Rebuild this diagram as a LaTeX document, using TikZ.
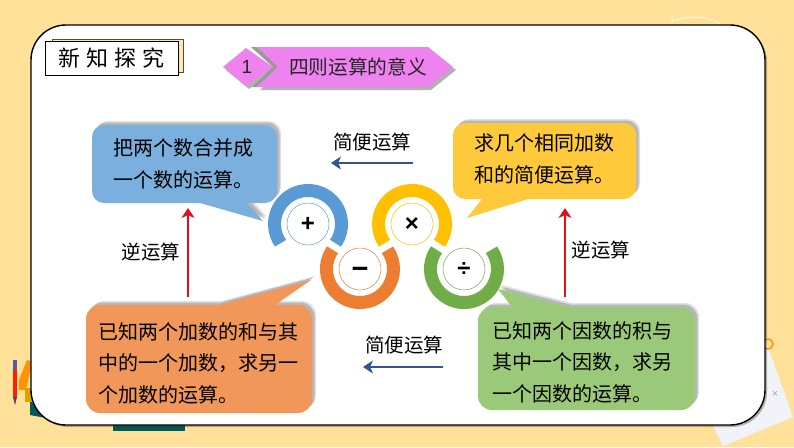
\documentclass[tikz,border=0pt]{standalone}
\usepackage{fontspec}
\setmainfont{Noto Sans CJK SC}
\setsansfont{Liberation Sans}
\usepackage{xcolor}
\usetikzlibrary{shadows,calc,arrows.meta}
\definecolor{page-yellow}{HTML}{FFE199}
\definecolor{add-blue}{HTML}{5B9BD5}
\definecolor{box-blue}{HTML}{7BAFDE}
\definecolor{sub-orange}{HTML}{ED7D31}
\definecolor{box-orange}{HTML}{F1975A}
\definecolor{mul-yellow}{HTML}{FFC000}
\definecolor{box-yellow}{HTML}{FFC93C}
\definecolor{div-green}{HTML}{70AD47}
\definecolor{box-green}{HTML}{9BC97A}
\definecolor{banner-pink}{HTML}{EE82EE}
\definecolor{arrow-navy}{HTML}{2F5597}
\definecolor{arrow-red}{HTML}{E0101E}
\definecolor{paper-white}{HTML}{F1F3F8}
\tikzset{
    soft-shadow/.style = {
        drop shadow={shadow xshift=4pt, shadow yshift=4pt, fill=black, opacity=0.12},
        drop shadow={shadow xshift=2.5pt, shadow yshift=2.5pt, fill=black, opacity=0.18}},
    card-shadow/.style = {drop shadow={shadow xshift=2pt, shadow yshift=-2pt, fill=black!60!brown, opacity=0.35}},
    banner-shadow/.style = {drop shadow={shadow xshift=3pt, shadow yshift=-3pt, fill=black, opacity=0.3}},
    card/.style = {draw=black, fill=white, line width=1.4pt, rounded corners=35pt, card-shadow},
    bubble/.style = {soft-shadow},
    bubble-text/.style = {align=left, anchor=west, inner sep=0pt, font=\fontsize{20}{31.5}\selectfont, text=black},
    banner/.style = {fill=banner-pink, banner-shadow},
    op-ring/.style = {line width=13pt},
    op-disc/.style = {circle, draw, fill=white, minimum size=42pt, inner sep=0pt, line width=0.5pt, font=\sffamily\bfseries\fontsize{24}{24}\selectfont, text=black},
    op-label/.style = {font=\fontsize{19.5}{22}\selectfont, text=black},
    main-arrow/.style = {-{Stealth[length=10pt,width=13pt,inset=3pt]}, line width=2pt},
}

\begin{document}
\begin{tikzpicture}[x=1pt,y=-1pt]
\useasboundingbox (0,0) rectangle (794,447);
\fill[page-yellow] (0,0) rectangle (794,447);
% things behind the card
\fill[paper-white] (760,325) -- (793,417) -- (723,446) -- (700,400) -- cycle;
\draw[orange!85!yellow, line width=1.5pt] (768,344) circle (5pt);
\node[text=gray!70, font=\sffamily\fontsize{11}{11}\selectfont] (paper-cross) at (775,394) {×};
\draw[white, opacity=0.7, line width=1pt] (672,14) -- (672,24) (672,21) .. controls (690,15) and (710,16) .. (720,24);
\fill[teal!70!black] (30,400) -- (46,418) -- (30,415) -- cycle;
\fill[orange!85!yellow] (19,380) -- (27,360) -- (33,362) -- (28,380) -- (26,390) -- (19,390) -- cycle;
\fill[mul-yellow!85!black] (25,388) rectangle (36,402);
\fill[teal!70!black] (113,420) rectangle (185,431);
\fill[red!75!orange] (13,370) rectangle (17,397);
\fill[gray!70!blue] (13,360) rectangle (17,370);
\fill[black!70] (13,397) -- (17,397) -- (15,405) -- cycle;
\path[card] (31,25) rectangle (765,425);
% title
\node[draw=black!70, fill=page-yellow!80!white, minimum width=131pt, minimum height=33pt, inner sep=0pt] (title-back) at (117.5,55.5) {};
\node[draw=black, fill=white, minimum width=133pt, minimum height=34pt, inner sep=0pt, font=\fontsize{22}{24}\selectfont] (title) at (111.5,58) {新\hspace{6pt}知\hspace{6pt}探\hspace{6pt}究};
% banner
\fill[banner] (223,67) -- (246,48) -- (273,67) -- (246,86) -- cycle;
\fill[gray!80] (251,47) -- (257,47) -- (278,67) -- (257,87) -- (252,87) -- (273,67) -- cycle;
\fill[banner] (257,47) -- (428,47) -- (453,67) -- (428,87) -- (257,87) -- (278,67) -- cycle;
\node[font=\sffamily\fontsize{19}{19}\selectfont, text=black!85] (step-num) at (247,67) {1};
\node[font=\fontsize{19.7}{22}\selectfont, text=black!85] (step-title) at (358,67) {四则运算的意义};
% speech bubbles
\path[bubble, fill=box-blue] (150,125) [rounded corners=12pt] -- (277,125) -- (277,203) [sharp corners] -- (247,203) -- (263,221) -- (200,203) [rounded corners=12pt] -- (92,203) -- (92,125) -- cycle;
\node[bubble-text] (add-text) at (113,164) {把两个数合并成\\一个数的运算。};
\path[bubble, fill=box-yellow] (550,123) [rounded corners=12pt] -- (636,123) -- (636,199) [sharp corners] -- (528,199) -- (467,218) -- (482,199) [rounded corners=12pt] -- (453,199) -- (453,123) -- cycle;
\node[bubble-text] (mul-text) at (474,159) {求几个相同加数\\和的简便运算。};
\path[bubble, fill=box-orange] (150,305) [sharp corners] -- (218,305) -- (311,280) -- (275,305) [rounded corners=14pt] -- (312,305) -- (312,413) -- (86,413) -- (86,305) -- cycle;
\node[bubble-text] (sub-text) at (98,363) {已知两个加数的和与其\\中的一个加数，求另一\\个加数的运算。};
\path[bubble, fill=box-green] (600,307) [rounded corners=14pt] -- (695,307) -- (695,410) -- (478,410) -- (478,307) [sharp corners] -- (512,307) -- (498,289) -- (568,307) -- cycle;
\node[bubble-text] (div-text) at (492,362) {已知两个因数的积与\\其中一个因数，求另\\一个因数的运算。};
% rings
\foreach \cx/\cy/\col/\from/\to/\sym/\nm in {308/224/add-blue/-35/215/+/add, 360/269/sub-orange/145/395/{\fontsize{29}{29}\selectfont\rule{0pt}{.66em}−}/sub, 412/224/mul-yellow/-35/215/×/mul, 464/269/div-green/145/395/÷/div}{
    \draw[op-ring, \col] ($(\cx,\cy)+(\from:33.5pt)$) arc[start angle=\from, end angle=\to, radius=33.5pt];
    \node[op-disc, draw=\col] (\nm-disc) at (\cx,\cy) {\sym};
}
% arrows
\coordinate (top-start) at (413,163);
\coordinate (top-end) at (331,163);
\coordinate (bottom-start) at (443,367);
\coordinate (bottom-end) at (363,367);
\coordinate (left-start) at (188,297);
\coordinate (left-end) at (188,208);
\coordinate (right-start) at (565,297);
\coordinate (right-end) at (565,208);
\draw[main-arrow, arrow-navy] (top-start) -- (top-end);
\draw[main-arrow, arrow-navy] (bottom-start) -- (bottom-end);
\draw[main-arrow, arrow-red] (left-start) -- (left-end);
\draw[main-arrow, arrow-red] (right-start) -- (right-end);
\node[op-label] (top-label) at (372,142) {简便运算};
\node[op-label] (bottom-label) at (404,345) {简便运算};
\node[op-label] (left-label) at (151,252) {逆运算};
\node[op-label] (right-label) at (601,250) {逆运算};
\end{tikzpicture}
\end{document}
